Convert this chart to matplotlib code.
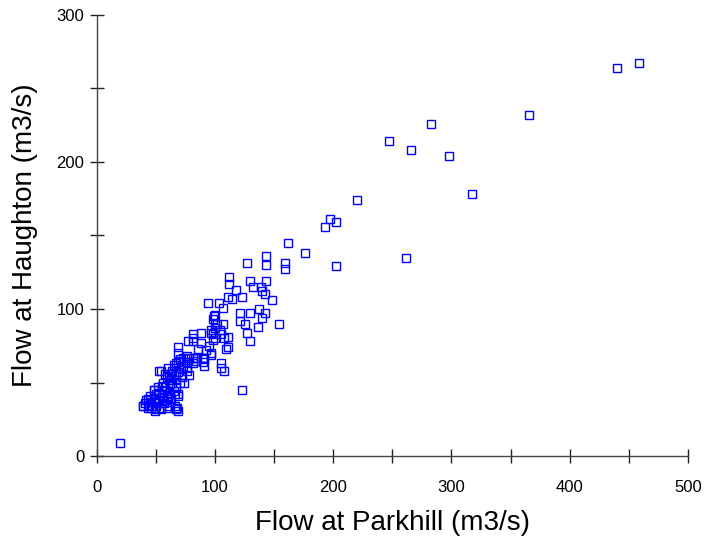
import numpy as np
import matplotlib
matplotlib.use("Agg")
import matplotlib.pyplot as plt

plt.rcParams['font.family'] = ['Liberation Sans', 'DejaVu Sans']

# flow readings (m3/s), Parkhill vs Haughton
parkhill = [
    459, 440, 366, 283, 247, 266, 298, 317, 220, 262, 197, 193, 202, 162, 176,
    143, 127, 143, 159, 159, 202, 112, 112, 130, 143, 132, 139, 140, 118, 142,
    148, 123, 114, 111, 94, 103, 107, 121, 130, 137, 142, 100, 98, 140, 154,
    121, 125, 136, 127, 130, 123, 20,
    100, 107, 97, 98, 100, 104, 105, 111, 111, 88, 81, 77, 81, 88, 97, 105, 91,
    90, 84, 99, 102, 97, 98, 108, 109, 97, 105, 108, 81, 85, 91, 81, 76, 83,
    91, 90, 100, 95, 92, 86,
    69, 69, 73, 78, 76, 81, 69, 76, 67, 73, 67, 67, 53, 54, 64, 69, 76, 78,
    59, 63, 67, 70, 56, 62, 67, 69, 57, 59, 48, 50, 45, 49, 42, 46, 39, 43,
    49, 54, 59, 66, 67, 69, 56, 62, 52, 55, 69, 68, 59, 54, 49, 39, 43, 48,
    41, 44, 47, 51, 53, 58, 61, 64, 65, 60, 52, 46, 50, 57, 63, 66, 72, 74,
    71, 63, 58, 55, 61, 65, 70, 60,
]
haughton = [
    267, 264, 232, 226, 214, 208, 204, 178, 174, 135, 161, 156, 159, 145, 138,
    136, 131, 130, 131, 127, 129, 122, 117, 119, 119, 115, 115, 112, 113, 110,
    106, 108, 107, 108, 104, 104, 101, 97, 97, 100, 97, 96, 93, 94, 90,
    92, 90, 88, 84, 78, 45, 9,
    90, 90, 86, 83, 80, 86, 83, 81, 74, 84, 83, 78, 78, 77, 70, 63, 66,
    64, 65, 95, 90, 84, 79, 80, 73, 69, 60, 58, 80, 67, 67, 63, 60, 67,
    61, 67, 87, 75, 72, 73,
    74, 70, 67, 67, 68, 67, 64, 64, 63, 61, 60, 56, 58, 58, 58, 57, 58, 55,
    54, 56, 52, 50, 50, 49, 47, 42, 45, 41, 45, 42, 41, 39, 38, 37, 34, 33,
    32, 33, 34, 34, 32, 31, 38, 37, 47, 40, 41, 33, 33, 32, 31, 34, 39, 45,
    36, 35, 34, 36, 43, 47, 52, 50, 44, 40, 38, 33, 34, 36, 39, 42, 54, 50,
    60, 53, 56, 48, 43, 62, 66, 60,
]

fig = plt.figure(figsize=(7.12, 5.47), dpi=100)
ax = fig.add_axes([0.136, 0.166, 0.83, 0.807])

ax.plot(parkhill, haughton, linestyle='none', marker='s', markersize=6,
        markerfacecolor='none', markeredgecolor='#0000ff', markeredgewidth=1.0)

ax.set_xlim(0, 500)
ax.set_ylim(0, 300)

for s in ['top', 'right']:
    ax.spines[s].set_visible(False)
for s in ['left', 'bottom']:
    ax.spines[s].set_color('#444444')
    ax.spines[s].set_linewidth(1.0)

ax.set_xticks(np.arange(0, 501, 100))
ax.set_xticks(np.arange(50, 500, 100), minor=True)
ax.set_yticks(np.arange(0, 301, 100))
ax.set_yticks(np.arange(50, 300, 100), minor=True)
ax.tick_params(which='both', direction='inout', length=10, width=1.0, color='#222222',
               labelcolor='black')
ax.tick_params(axis='x', which='major', pad=12, labelsize=12)
ax.tick_params(axis='y', which='major', pad=4, labelsize=12)

ax.set_xlabel('Flow at Parkhill (m3/s)', fontsize=20, labelpad=11)
ax.set_ylabel('Flow at Haughton (m3/s)', fontsize=20, labelpad=13)

fig.savefig('out.png', dpi=100)
